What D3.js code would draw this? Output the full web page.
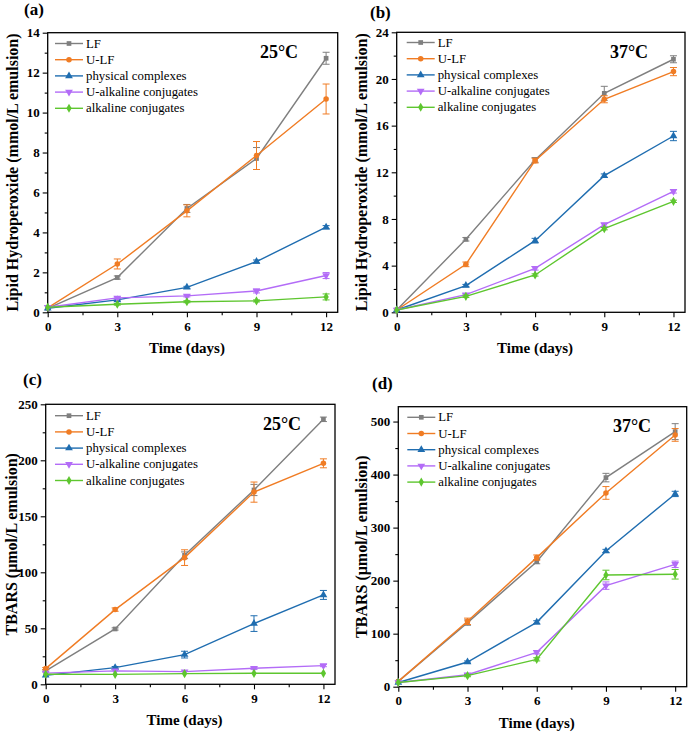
<!DOCTYPE html>
<html><head><meta charset="utf-8">
<script src="https://cdn.jsdelivr.net/npm/d3@7"></script>
<style>body{margin:0;background:#fff}svg{display:block}</style>
</head><body>
<svg id="c" width="689" height="732"></svg>
<script>
const days = [0, 3, 6, 9, 12];
const seriesNames = ["LF", "U-LF", "physical complexes", "U-alkaline conjugates", "alkaline conjugates"];
const seriesColors = ["#7f7f7f", "#f07c24", "#1f6db0", "#b36cf7", "#5ec62f"];
const xTicks = [0, 3, 6, 9, 12];

// (a) Lipid hydroperoxide 25°C
const lhp25 = [
  [0.2, 1.74, 5.2, 7.7, 12.72],
  [0.22, 2.42, 5.08, 7.85, 10.68],
  [0.2, 0.62, 1.25, 2.54, 4.26],
  [0.25, 0.72, 0.82, 1.07, 1.84],
  [0.25, 0.4, 0.53, 0.57, 0.77]
];
const lhp25Err = [
  [0.03, 0.08, 0.2, 0.55, 0.3],
  [0.03, 0.25, 0.3, 0.7, 0.75],
  [0.02, 0.05, 0.05, 0.08, 0.08],
  [0.02, 0.05, 0.05, 0.1, 0.15],
  [0.02, 0.04, 0.05, 0.05, 0.15]
];
// (b) Lipid hydroperoxide 37°C
const lhp37 = [
  [0.2, 6.26, 13.06, 18.77, 21.69],
  [0.2, 4.11, 13.0, 18.26, 20.63],
  [0.2, 2.29, 6.14, 11.71, 15.11],
  [0.2, 1.51, 3.77, 7.51, 10.37],
  [0.2, 1.37, 3.2, 7.17, 9.51]
];
const lhp37Err = [
  [0.05, 0.15, 0.2, 0.6, 0.3],
  [0.05, 0.2, 0.2, 0.3, 0.35],
  [0.05, 0.1, 0.2, 0.15, 0.4],
  [0.05, 0.1, 0.15, 0.15, 0.15],
  [0.05, 0.1, 0.1, 0.1, 0.1]
];
// (c) TBARS 25°C
const tbars25 = [
  [12, 49.4, 115.2, 173.5, 236.6],
  [14, 66.7, 113.1, 171.6, 197.3],
  [8, 14.9, 26.5, 54.2, 79.8],
  [10, 12, 11.3, 14.3, 16.7],
  [9, 8.9, 9.5, 9.8, 9.8]
];
const tbars25Err = [
  [1, 1, 3, 5, 2],
  [1, 1.5, 7, 9, 4],
  [0.5, 1, 3, 7, 4],
  [0.5, 0.5, 0.5, 1, 1],
  [0.5, 0.5, 0.5, 0.5, 0.5]
];
// (d) TBARS 37°C
const tbars37 = [
  [10, 120.8, 235.8, 394.3, 481],
  [10, 123.3, 243.4, 365.4, 474.8],
  [8, 46.5, 121.4, 256, 363.5],
  [8, 22.6, 64.8, 190.6, 230.8],
  [8, 20.8, 51.6, 210.7, 212]
];
const tbars37Err = [
  [1, 5, 4, 8, 15],
  [1, 6, 5, 12, 12],
  [1, 2, 3, 3, 5],
  [1, 2, 3, 7, 6],
  [1, 2, 3, 9, 9]
];
const yTicksA = [0, 2, 4, 6, 8, 10, 12, 14];
const yTicksB = [0, 4, 8, 12, 16, 20, 24];
const yTicksC = [0, 50, 100, 150, 200, 250];
const yTicksD = [0, 100, 200, 300, 400, 500];

const panels = [
  {label: "(a)", temp: "25°C", vals: lhp25, errs: lhp25Err, yTicks: yTicksA, yMax: 14, ylab: "Lipid Hydroperoxide (mmol/L emulsion)",
   left: 47.7, right: 337.7, top: 32.7, bottom: 312.3, lab: [24, 15], tempPos: [279, 58], leg: [55, 43.5], ylx: 12},
  {label: "(b)", temp: "37°C", vals: lhp37, errs: lhp37Err, yTicks: yTicksB, yMax: 24, ylab: "Lipid Hydroperoxide (mmol/L emulsion)",
   left: 396.7, right: 685, top: 32.3, bottom: 312.3, lab: [370, 18], tempPos: [629, 58], leg: [406.7, 42.5], ylx: 361},
  {label: "(c)", temp: "25°C", vals: tbars25, errs: tbars25Err, yTicks: yTicksC, yMax: 250, ylab: "TBARS (μmol/L emulsion)",
   left: 45.7, right: 335, top: 404.3, bottom: 684.3, lab: [23, 385], tempPos: [282, 430], leg: [55, 415.7], ylx: 11},
  {label: "(d)", temp: "37°C", vals: tbars37, errs: tbars37Err, yTicks: yTicksD, yMax: 528, ylab: "TBARS (μmol/L emulsion)",
   left: 398.3, right: 686.7, top: 406.7, bottom: 686.7, lab: [372, 389], tempPos: [632, 432], leg: [407.3, 417.3], ylx: 361}
];

const symbols = [d3.symbolSquare, d3.symbolCircle, d3.symbolTriangle, d3.symbolTriangle, d3.symbolDiamond];
const symRot = [0, 0, 0, 180, 0];
const symSize = [22, 24, 26, 26, 24];
const FONT = "'Liberation Serif', 'Times New Roman', serif";

const svg = d3.select("#c");

panels.forEach(p => {
  const g = svg.append("g");
  const xMax = 12.5;
  const x = d3.scaleLinear().domain([0, xMax]).range([p.left, p.right]);
  const y = d3.scaleLinear().domain([0, p.yMax]).range([p.bottom, p.top]);

  g.append("rect").attr("x", p.left).attr("y", p.top).attr("width", p.right - p.left).attr("height", p.bottom - p.top)
    .attr("fill", "none").attr("stroke", "#000").attr("stroke-width", 1.3);

  const xAxis = g.append("g").attr("transform", `translate(0,${p.bottom})`)
    .call(d3.axisBottom(x).tickValues(xTicks).tickSize(5).tickSizeOuter(0).tickPadding(4).tickFormat(d3.format("d")));
  xAxis.select(".domain").remove();
  const xMinor = xTicks.slice(0, -1).map(t => t + 1.5);
  g.append("g").attr("transform", `translate(0,${p.bottom})`)
    .call(d3.axisBottom(x).tickValues(xMinor).tickSize(3).tickFormat(""))
    .select(".domain").remove();

  const yAxis = g.append("g").attr("transform", `translate(${p.left},0)`)
    .call(d3.axisLeft(y).tickValues(p.yTicks).tickSize(5).tickSizeOuter(0).tickPadding(3).tickFormat(d3.format("d")));
  yAxis.select(".domain").remove();
  const step = p.yTicks[1] - p.yTicks[0];
  const yMinor = p.yTicks.map(t => t + step / 2).filter(t => t < p.yMax);
  g.append("g").attr("transform", `translate(${p.left},0)`)
    .call(d3.axisLeft(y).tickValues(yMinor).tickSize(3).tickFormat(""))
    .select(".domain").remove();

  g.selectAll(".tick line").attr("stroke", "#000").attr("stroke-width", 1.1);
  g.selectAll(".tick text").attr("font-family", FONT).attr("font-weight", "bold").attr("font-size", 13).attr("fill", "#000");

  g.append("text").attr("x", x(6)).attr("y", p.bottom + 41).attr("text-anchor", "middle")
    .attr("font-family", FONT).attr("font-weight", "bold").attr("font-size", 15).text("Time (days)");
  g.append("text").attr("transform", `translate(${p.ylx},${(p.top + p.bottom) / 2}) rotate(-90)`)
    .attr("text-anchor", "middle").attr("dominant-baseline", "central")
    .attr("font-family", FONT).attr("font-weight", "bold").attr("font-size", 16).text(p.ylab);

  g.append("text").attr("x", p.lab[0]).attr("y", p.lab[1])
    .attr("font-family", FONT).attr("font-weight", "bold").attr("font-size", 17).text(p.label);
  g.append("text").attr("x", p.tempPos[0]).attr("y", p.tempPos[1]).attr("text-anchor", "middle")
    .attr("font-family", FONT).attr("font-weight", "bold").attr("font-size", 18).text(p.temp);

  const line = d3.line().x((d, i) => x(days[i])).y(d => y(d));

  p.vals.forEach((vals, s) => {
    const col = seriesColors[s];
    const sg = g.append("g");
    vals.forEach((v, i) => {
      const e = p.errs[s][i];
      const cx = x(days[i]);
      const y1 = y(v + e), y2 = y(v - e);
      if (Math.abs(y2 - y1) < 1.5) return;
      sg.append("line").attr("x1", cx).attr("x2", cx).attr("y1", y1).attr("y2", y2).attr("stroke", col).attr("stroke-width", 1);
      [y1, y2].forEach(yy => sg.append("line").attr("x1", cx - 3.5).attr("x2", cx + 3.5).attr("y1", yy).attr("y2", yy)
        .attr("stroke", col).attr("stroke-width", 1));
    });
    sg.append("path").attr("d", line(vals)).attr("fill", "none").attr("stroke", col).attr("stroke-width", 1.4);
    const sym = d3.symbol().type(symbols[s]).size(symSize[s]);
    vals.forEach((v, i) => {
      sg.append("path").attr("d", sym()).attr("fill", col)
        .attr("transform", `translate(${x(days[i])},${y(v)}) rotate(${symRot[s]})`);
    });
  });

  const lg = g.append("g");
  seriesNames.forEach((name, s) => {
    const ly = p.leg[1] + s * 16.2;
    const lx = p.leg[0];
    const col = seriesColors[s];
    lg.append("line").attr("x1", lx).attr("x2", lx + 28).attr("y1", ly).attr("y2", ly).attr("stroke", col).attr("stroke-width", 1.4);
    lg.append("path").attr("d", d3.symbol().type(symbols[s]).size(symSize[s])()).attr("fill", col)
      .attr("transform", `translate(${lx + 14},${ly}) rotate(${symRot[s]})`);
    lg.append("text").attr("x", lx + 31).attr("y", ly).attr("dominant-baseline", "central")
      .attr("font-family", FONT).attr("font-size", 12.8).attr("fill", "#000").text(name);
  });
});
</script>
</body></html>
